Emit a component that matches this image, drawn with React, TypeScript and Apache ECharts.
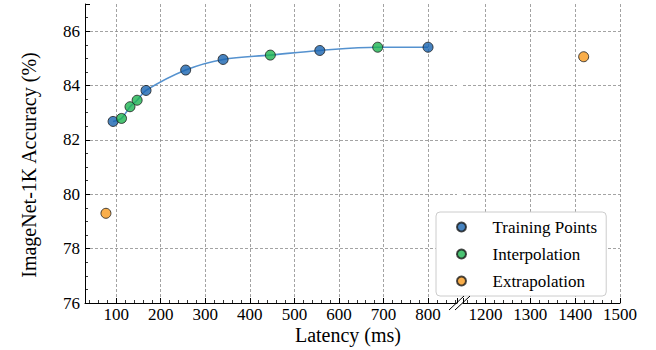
import React, { useEffect, useRef } from "react";
import * as echarts from "echarts";

// Training points (latency ms, top-1 %)
const trainLatency = [93, 167, 256, 340, 557, 800];
const trainAcc = [82.68, 83.82, 84.57, 84.96, 85.29, 85.41];
// Interpolation points
const interpLatency = [112, 131, 147, 446, 687];
const interpAcc = [82.79, 83.22, 83.46, 85.12, 85.41];
// Extrapolation points (one on each side of the axis break)
const extrapLowLatency = [77];
const extrapLowAcc = [79.3];
const extrapHighLatency = [1419];
const extrapHighAcc = [85.06];

const legendNames = ["Training Points", "Interpolation", "Extrapolation"];

const FONT = "Liberation Serif, Times New Roman, serif";
const GRID_COLOR = "#8c8c8c";

const pairs = (xs: number[], ys: number[]) => xs.map((x, i) => [x, ys[i]]);

const labelStyle = {
  fontFamily: FONT,
  fontSize: 17,
  color: "#000",
};

function xAxisCfg(gridIndex: number, min: number, max: number, splitNumber: number, showMax: boolean) {
  return {
    type: "value",
    gridIndex,
    min,
    max,
    splitNumber,
    axisLine: { show: true, onZero: false, lineStyle: { color: "#000", width: 1 } },
    axisTick: { show: true, inside: true, length: 5, lineStyle: { color: "#000", width: 1 } },
    minorTick: { show: true, splitNumber: 5, length: 3, lineStyle: { color: "#000", width: 0.8 } },
    axisLabel: {
      ...labelStyle,
      margin: 3,
      showMinLabel: false,
      showMaxLabel: showMax,
      formatter: (v: number) => String(v),
    },
    splitLine: {
      show: true,
      showMinLine: false,
      showMaxLine: showMax,
      lineStyle: { color: GRID_COLOR, type: [3, 2], width: 0.8 },
    },
  };
}

function yAxisCfg(gridIndex: number, visible: boolean) {
  return {
    type: "value",
    gridIndex,
    min: 76,
    max: 87,
    interval: 2,
    axisLine: { show: visible, onZero: false, lineStyle: { color: "#000", width: 1 } },
    axisTick: { show: visible, inside: true, length: 5, lineStyle: { color: "#000", width: 1 } },
    minorTick: { show: visible, splitNumber: 4, length: 3, lineStyle: { color: "#000", width: 0.8 } },
    axisLabel: {
      show: visible,
      ...labelStyle,
      margin: 5,
      showMaxLabel: false,
      formatter: (v: number) => String(v),
    },
    splitLine: {
      show: true,
      showMinLine: false,
      showMaxLine: false,
      lineStyle: { color: GRID_COLOR, type: [3, 2], width: 0.8 },
    },
  };
}

const markerBorder = { borderColor: "#1a1a1a", borderWidth: 1 };

export default function App() {
  const ref = useRef<HTMLDivElement>(null);
  useEffect(() => {
    document.body.style.margin = "0";
    const chart = echarts.init(ref.current!, null, { renderer: "svg" });

    const curve = [...pairs(trainLatency, trainAcc), ...pairs(interpLatency, interpAcc)].sort(
      (a, b) => a[0] - b[0]
    );

    chart.setOption({
      animation: false,
      backgroundColor: "#fff",
      textStyle: { fontFamily: FONT },
      grid: [
        { left: 85, top: 4, width: 372, height: 299 },
        { left: 463, top: 4, width: 157, height: 299 },
      ],
      xAxis: [xAxisCfg(0, 30, 865, 8, false), xAxisCfg(1, 1150, 1500, 4, true)],
      yAxis: [yAxisCfg(0, true), yAxisCfg(1, false)],
      legend: {
        data: legendNames,
        orient: "vertical",
        left: 436,
        top: 212,
        padding: [6, 9, 6, 20],
        itemWidth: 22,
        itemHeight: 9,
        itemGap: 9,
        icon: "circle",
        backgroundColor: "#fff",
        borderColor: "#cccccc",
        borderWidth: 1,
        borderRadius: 4,
        textStyle: {
          ...labelStyle,
          lineHeight: 18,
          padding: [0, 0, 0, 15],
        },
      },
      series: [
        {
          type: "line",
          name: "fit",
          xAxisIndex: 0,
          yAxisIndex: 0,
          data: curve,
          smooth: 0.35,
          showSymbol: false,
          symbol: "none",
          lineStyle: { color: "#5592cf", width: 1.6 },
          z: 1,
          silent: true,
        },
        {
          type: "scatter",
          name: "Training Points",
          xAxisIndex: 0,
          yAxisIndex: 0,
          data: pairs(trainLatency, trainAcc),
          symbolSize: 10,
          itemStyle: { color: "#1964b0", ...markerBorder },
          z: 3,
        },
        {
          type: "scatter",
          name: "Interpolation",
          xAxisIndex: 0,
          yAxisIndex: 0,
          data: pairs(interpLatency, interpAcc),
          symbolSize: 10,
          itemStyle: { color: "#1db450", ...markerBorder },
          z: 3,
        },
        {
          type: "scatter",
          name: "Extrapolation",
          xAxisIndex: 0,
          yAxisIndex: 0,
          data: pairs(extrapLowLatency, extrapLowAcc),
          symbolSize: 10,
          itemStyle: { color: "#f79a1e", ...markerBorder },
          z: 3,
        },
        {
          type: "scatter",
          name: "Extrapolation",
          xAxisIndex: 1,
          yAxisIndex: 1,
          data: pairs(extrapHighLatency, extrapHighAcc),
          symbolSize: 10,
          itemStyle: { color: "#f79a1e", ...markerBorder },
          z: 3,
        },
      ],
      graphic: [
        {
          type: "text",
          x: 348,
          y: 335,
          style: {
            text: "Latency (ms)",
            fontFamily: FONT,
            fontSize: 20,
            fill: "#000",
            align: "center",
            verticalAlign: "middle",
          },
        },
        {
          type: "text",
          x: 29,
          y: 165,
          rotation: Math.PI / 2,
          style: {
            text: "ImageNet-1K Accuracy (%)",
            fontFamily: FONT,
            fontSize: 20,
            fill: "#000",
            align: "center",
            verticalAlign: "middle",
          },
        },
        {
          type: "line",
          shape: { x1: 449, y1: 310, x2: 464, y2: 296 },
          style: { stroke: "#000", lineWidth: 1 },
          z: 10,
        },
        {
          type: "line",
          shape: { x1: 455, y1: 310, x2: 470, y2: 296 },
          style: { stroke: "#000", lineWidth: 1 },
          z: 10,
        },
      ],
    });
    return () => chart.dispose();
  }, []);
  return <div ref={ref} style={{ width: 656, height: 350 }} />;
}
